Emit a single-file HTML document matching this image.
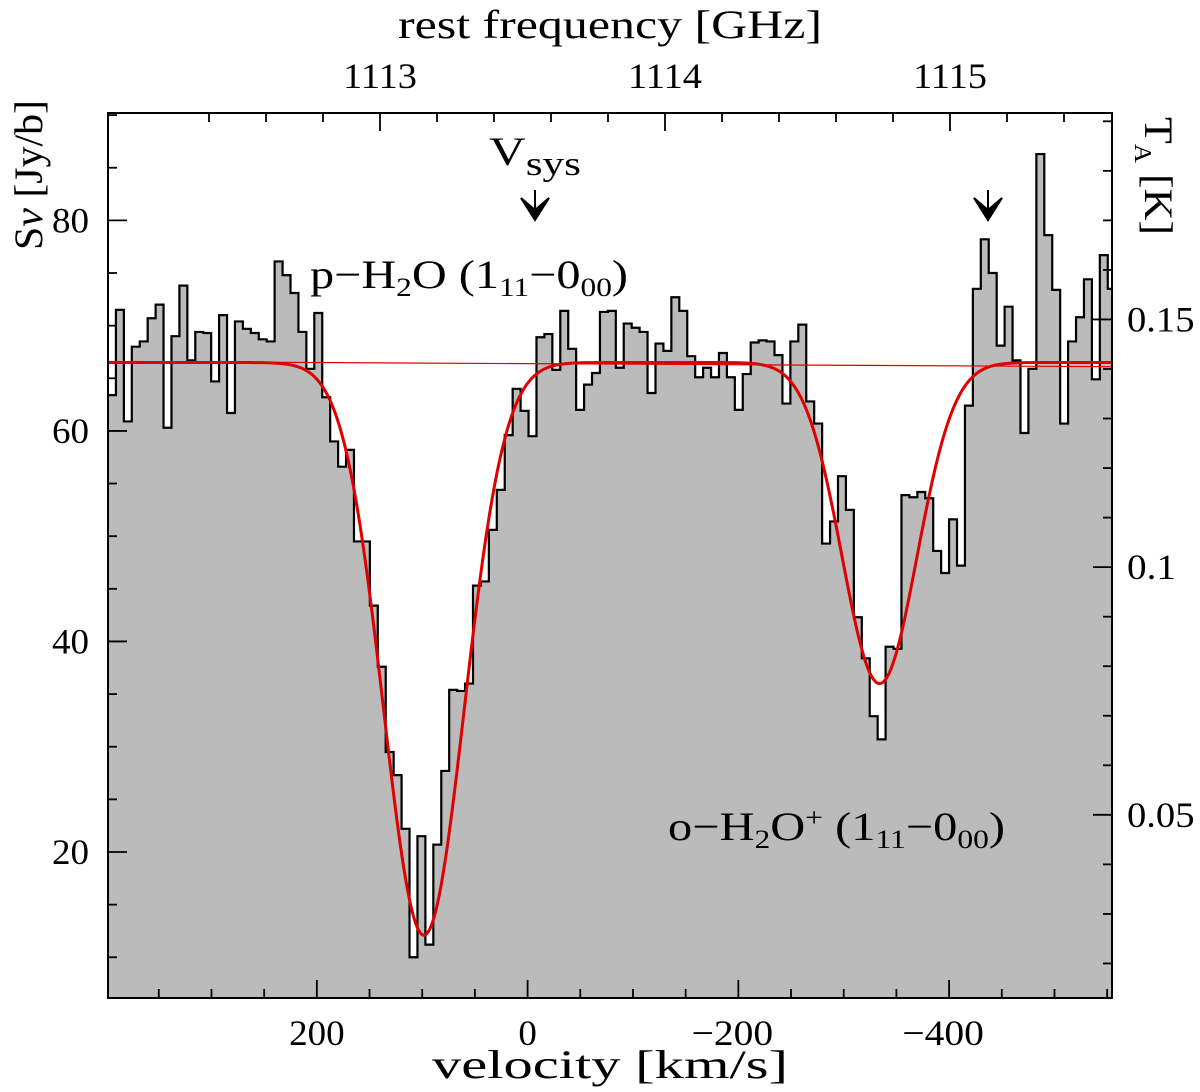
<!DOCTYPE html>
<html><head><meta charset="utf-8"><style>
html,body{margin:0;padding:0;background:#fff;}
svg{display:block;font-family:"Liberation Serif",serif;}
</style></head><body>
<svg id="chart" width="1200" height="1092" viewBox="0 0 1200 1092" xmlns="http://www.w3.org/2000/svg">
<g id="plot"></g>
</svg>
<script>
// ---- data ----
const channelStartVelocity = 398.2;   // km/s (left edge of first channel)
const channelWidth = -7.53;           // km/s per channel
const flux = [63.4,71.5,60.9,68,68.5,70.7,72,60.3,69,73.8,66.7,69.4,69.3,64.7,71,61.7,70.4,69.7,69.3,68.7,68.5,76.1,74.8,73.1,69.4,65.9,71.2,63.2,
59.0,56.6,58.2,49.5,49.5,43.4,37.6,29.5,27.3,22.2,10.0,21.5,11.2,20.7,27.7,35.4,35.3,36.0,45.3,45.7,50.6,54.4,
59.6,64,61.9,59.5,68.9,69.2,65.8,71.4,67.8,62,64.4,65.5,71.3,71.4,66,70.2,69.8,69.4,63.6,68.3,67.6,72.7,71.4,67.1,65.1,66,65.1,67.4,65.1,62,65.4,68.4,68.6,68.5,67.2,62.6,68.5,70.1,62.8,
60.7,49.3,51.4,55.7,52.5,42.3,38.4,32.9,30.7,39.5,39.3,53.9,53.7,54.2,53.6,48.6,46.5,51.6,47.2,62.4,73.5,78.2,75,68.1,71.8,66.7,59.8,65.9,86.3,78.6,73.4,60.7,68.5,70.8,74.4,64.9,76.7,73.5];
const fitBaseline = 66.5;
const fitCenters = [98.4, -334];
const fitDepths = [54.4, 30.5];
const fitFWHM = [90, 83.5];
const contLineEnds = [66.6, 66.1];
const velTicksMajor = [200, 0, -200, -400];
const velTickLabels = ["200","0","\u2212200","\u2212400"];
const freqTicksMajor = [1113, 1114, 1115];
const freqTickLabels = ["1113","1114","1115"];
const fluxTicksMajor = [20, 40, 60, 80];
const fluxTickLabels = ["20","40","60","80"];
const tempTicksMajor = [0.05, 0.1, 0.15];
const tempTickLabels = ["0.05","0.1","0.15"];

// ---- axes ----
const L=108,R=1112,T=113,B=998;
const vMin=398.2, vMax=-554.6, yMin=6.13, yMax=90.2;
const xv = v => L + (vMin - v)/(vMin - vMax)*(R-L);
const yj = j => B - (j - yMin)/(yMax - yMin)*(B-T);
const xf = f => 380 + (f-1113)*285;
const jyPerK = 1/0.002125;
const NS="http://www.w3.org/2000/svg";
const plot=document.getElementById('plot');
function mk(tag,attrs,parent){const e=document.createElementNS(NS,tag);for(const k in attrs)e.setAttribute(k,attrs[k]);(parent||plot).appendChild(e);return e;}
function lenFor(s){let w=0;for(const c of s){w+= (c==='.')?10:(c==='\u2212'?26:18.5);}return w;}

const defs=mk('defs',{});
const cp=mk('clipPath',{id:'clip'},defs);
mk('rect',{x:L,y:T,width:R-L,height:B-T},cp);

let d=`M ${xv(channelStartVelocity)} ${B}`;
let dl='';
for(let i=0;i<flux.length;i++){
  const v0=channelStartVelocity+i*channelWidth, v1=v0+channelWidth;
  d+=` L ${xv(v0)} ${yj(flux[i])} L ${xv(v1)} ${yj(flux[i])}`;
  dl+=(i===0?'M ':' L ')+`${xv(v0)} ${yj(flux[i])} L ${xv(v1)} ${yj(flux[i])}`;
}
const lastV=channelStartVelocity+flux.length*channelWidth;
const fill=mk('path',{d:d+` L ${xv(lastV)} ${B} Z`,fill:'#bbbbbb',stroke:'none','clip-path':'url(#clip)'});


const hist=mk('path',{d:dl,fill:'none',stroke:'#000','stroke-width':2.2,'clip-path':'url(#clip)'});



const cl=mk('line',{x1:L,y1:yj(contLineEnds[0]),x2:R,y2:yj(contLineEnds[1]),stroke:'#e00000','stroke-width':1.2});



let fd='';
for(let px=L;px<=R;px+=1){
  const v=vMin-(px-L)/(R-L)*(vMin-vMax);
  let s=fitBaseline;
  for(let k=0;k<fitCenters.length;k++){const sg=fitFWHM[k]/2.3548;s-=fitDepths[k]*Math.exp(-0.5*((v-fitCenters[k])/sg)**2);}
  fd+=(px===L?'M ':' L ')+px+' '+yj(s).toFixed(2);
}
const fit=mk('path',{d:fd,fill:'none',stroke:'#e00000','stroke-width':3});



const fr=mk('rect',{x:L,y:T,width:R-L,height:B-T,fill:'none',stroke:'#000','stroke-width':2});



function txt(s,x,y,anchor,size,name,len){const t=mk('text',{x:x,y:y,'text-anchor':anchor,'font-size':size,fill:'#000'});if(len){t.setAttribute('textLength',len);t.setAttribute('lengthAdjust','spacingAndGlyphs');}t.textContent=s;return t;}

for(let v=350;v>=-550;v-=50){
  const major=v%200===0;
  const x=xv(v), len=major?18:9;
  mk('line',{x1:x,y1:B,x2:x,y2:B-len,stroke:'#000','stroke-width':1.8});
}
velTicksMajor.forEach((v,i)=>txt(velTickLabels[i],xv(v)-(velTickLabels[i][0]==='\u2212'?6:0),1045,'middle',36,'x-tick-label',lenFor(velTickLabels[i])));
for(let k=0;k<=16;k++){
  const f=1112.4+k*0.2; const x=xf(f); if(x<L+2||x>R-2)continue;
  const major=Math.abs(f-Math.round(f))<1e-6;
  mk('line',{x1:x,y1:T,x2:x,y2:T+(major?18:9),stroke:'#000','stroke-width':1.8});
}
freqTicksMajor.forEach((f,i)=>txt(freqTickLabels[i],xf(f),88,'middle',36,'top-tick-label',74));
for(let j=10;j<=90;j+=5){
  const y=yj(j), major=j%20===0;
  mk('line',{x1:L,y1:y,x2:L+(major?19:9),y2:y,stroke:'#000','stroke-width':1.8});
}
fluxTicksMajor.forEach((j,i)=>txt(fluxTickLabels[i],89,yj(j)+12,'end',36,'y-tick-label',37));
for(let k=2;k<=19;k++){
  const K=k*0.01, y=yj(K*jyPerK); if(y<T+2||y>B-2)continue;
  const major=(k%5===0);
  mk('line',{x1:R,y1:y,x2:R-(major?19:9),y2:y,stroke:'#000','stroke-width':1.8});
}
tempTicksMajor.forEach((K,i)=>txt(tempTickLabels[i],1127,yj(K*jyPerK)+12,'start',36,'right-tick-label',lenFor(tempTickLabels[i])+2));

txt('rest frequency [GHz]',610,38,'middle',40,'top-axis-title',424);
txt('velocity [km/s]',610,1078,'middle',40,'x-axis-title',356);
const yl=mk('text',{x:0,y:0,'text-anchor':'middle','font-size':40,textLength:150,lengthAdjust:'spacingAndGlyphs',transform:'translate(42,175) rotate(-90)'});
yl.innerHTML='S<tspan font-style="italic">ν</tspan> [Jy/b]';


const yr=mk('text',{x:0,y:0,'text-anchor':'middle','font-size':40,textLength:118,lengthAdjust:'spacingAndGlyphs',transform:'translate(1145,176) rotate(90)'});
yr.innerHTML='T<tspan font-size="24" dy="10">A</tspan><tspan dy="-10"> [K]</tspan>';



const vs=mk('text',{x:489,y:165,'font-size':40,textLength:92,lengthAdjust:'spacingAndGlyphs'});
vs.innerHTML='V<tspan font-size="34" dy="10">sys</tspan>';


function arrow(x,y,name){
  const a=mk('path',{d:`M ${x-14} ${y-22} L ${x} ${y} L ${x+14} ${y-22} L ${x} ${y-10} Z M ${x} ${y-30} L ${x} ${y-5}`,fill:'#000',stroke:'#000','stroke-width':2});
  
  
}
arrow(535,220,'vsys-arrow');
arrow(988,220,'line-arrow');
const l1=mk('text',{x:310,y:288,'font-size':40,textLength:318,lengthAdjust:'spacingAndGlyphs'});
l1.innerHTML='p\u2212H<tspan font-size="26" dy="8">2</tspan><tspan dy="-8">O (1</tspan><tspan font-size="26" dy="8">11</tspan><tspan dy="-8">\u22120</tspan><tspan font-size="26" dy="8">00</tspan><tspan dy="-8">)</tspan>';


const l2=mk('text',{x:668,y:840,'font-size':40,textLength:337,lengthAdjust:'spacingAndGlyphs'});
l2.innerHTML='o\u2212H<tspan font-size="26" dy="8">2</tspan><tspan dy="-8">O</tspan><tspan font-size="26" dy="-14">+</tspan><tspan dy="14"> (1</tspan><tspan font-size="26" dy="8">11</tspan><tspan dy="-8">\u22120</tspan><tspan font-size="26" dy="8">00</tspan><tspan dy="-8">)</tspan>';


</script>
</body></html>
